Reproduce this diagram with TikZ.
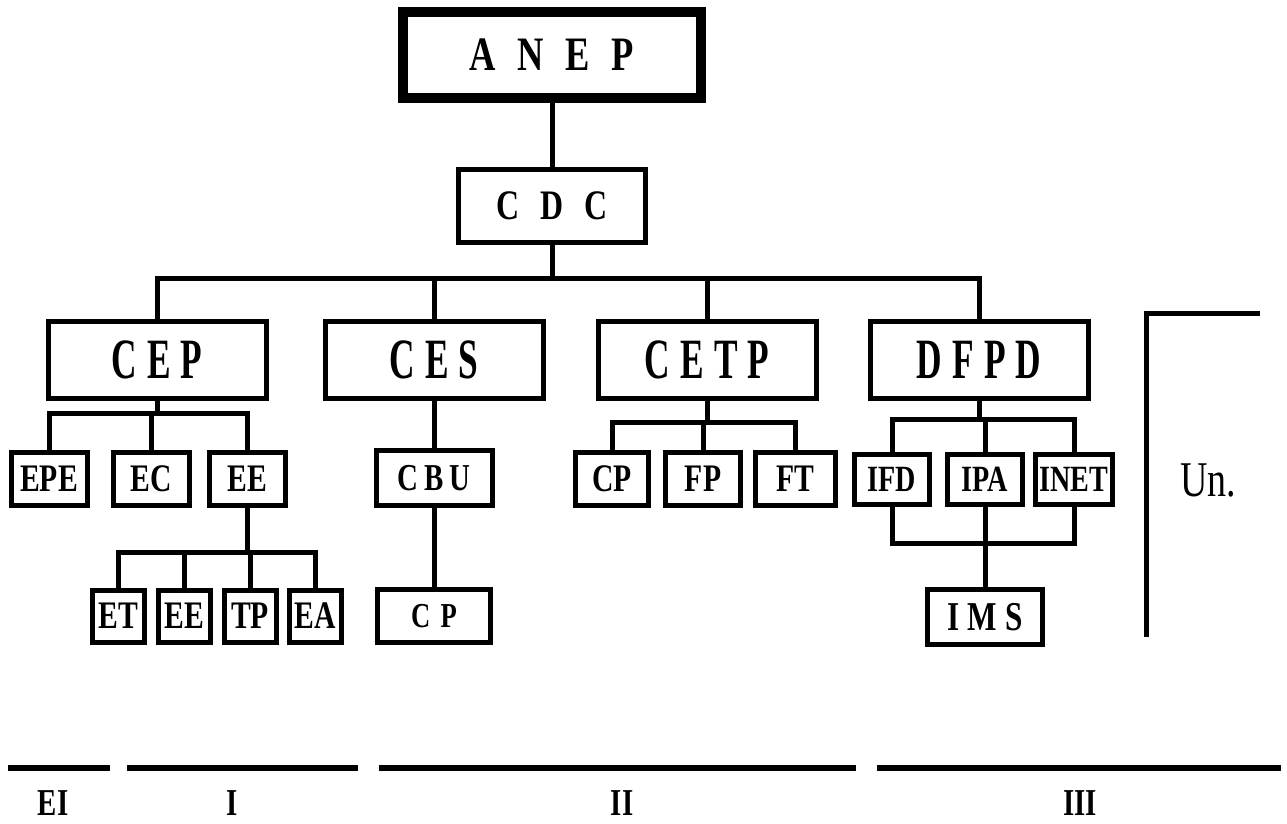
\documentclass[tikz,border=0pt]{standalone}
\usepackage{fontspec}
\setmainfont{Liberation Serif}
\newfontfamily\boxfont[FakeStretch=0.76]{Liberation Serif}
\newfontfamily\tallfont[FakeStretch=0.62]{Liberation Serif}
\usetikzlibrary{positioning}
% letter spaced caption, #1 = spacing in percent of em
\newcommand{\spread}[2]{{\addfontfeature{LetterSpace=#1}#2}}
\tikzset{
  unit/.style={draw, line width=5pt, inner sep=0pt, minimum height=53pt,
    font=\boxfont\bfseries\fontsize{39}{44}\selectfont},
  smallunit/.style={unit, minimum width=52pt, minimum height=52pt},
  midunit/.style={unit, minimum width=76pt},
  council/.style={unit, minimum width=218pt, minimum height=77pt,
    font=\tallfont\bfseries\fontsize{57}{64}\selectfont},
  link/.style={line width=5pt},
  rule/.style={line width=6pt},
  level/.style={inner sep=0pt, font=\boxfont\bfseries\fontsize{38}{44}\selectfont}
}

\begin{document}
\begin{tikzpicture}[x=1pt, y=-1pt]
    \path[fill=white, use as bounding box] (0,0) rectangle (1287,823);

    % top of the chart
    \node[unit, line width=10pt, minimum width=298pt, minimum height=86pt,
      font=\boxfont\bfseries\fontsize{48}{56}\selectfont] (anep) at (552,55) {\spread{45}{ANEP}};
    \node[unit, minimum width=187pt, minimum height=73pt,
      font=\boxfont\bfseries\fontsize{42}{48}\selectfont] (cdc) at (552,206) {\spread{50}{CDC}};
    \draw[link] (anep) -- (cdc);

    % councils
    \node[council] (cep) at (157,360) {\spread{18}{CEP}};
    \node[council] (ces) at (434,360) {\spread{18}{CES}};
    \node[council] (cetp) at (707,360) {\spread{18}{CETP}};
    \node[council] (dfpd) at (979,360) {\spread{18}{DFPD}};
    \coordinate (bus) at (557,278);
    \draw[link] (cdc.south) -- (cdc.south |- bus);
    \draw[link] (cep.north) |- (dfpd.north |- bus) -- (dfpd.north);
    \foreach \u in {ces,cetp}
      \draw[link] (\u.north) -- (\u.north |- bus);

    % CEP branch
    \node[midunit] (epe) at (49,479) {EPE};
    \node[midunit] (ec) at (151,479) {EC};
    \node[midunit] (ee) at (247,479) {EE};
    \coordinate (cepbus) at (155,413);
    \draw[link] (cep.south) -- (cep.south |- cepbus);
    \draw[link] (epe.north) |- (ee.north |- cepbus) -- (ee.north);
    \draw[link] (ec.north) -- (ec.north |- cepbus);

    \node[smallunit] (et) at (118,616) {ET};
    \node[smallunit] (eee) at (184,616) {EE};
    \node[smallunit] (tp) at (250,616) {TP};
    \node[smallunit] (ea) at (315,616) {EA};
    \coordinate (eebus) at (248,552);
    \draw[link] (ee.south) -- (ee.south |- eebus);
    \draw[link] (et.north) |- (ea.north |- eebus) -- (ea.north);
    \foreach \u in {eee,tp}
      \draw[link] (\u.north) -- (\u.north |- eebus);

    % CES branch
    \node[unit, minimum width=116pt, minimum height=55pt,
      font=\boxfont\bfseries\fontsize{38}{44}\selectfont] (cbu) at (434,478) {\spread{16}{CBU}};
    \node[unit, minimum width=113pt, minimum height=53pt,
      font=\boxfont\bfseries\fontsize{35}{40}\selectfont] (cpces) at (434,616) {\spread{30}{CP}};
    \draw[link] (ces) -- (cbu);
    \draw[link] (cbu) -- (cpces);

    % CETP branch
    \node[midunit, minimum width=73pt] (cpcetp) at (612,479) {CP};
    \node[midunit, minimum width=75pt] (fp) at (703,479) {FP};
    \node[midunit, minimum width=80pt] (ft) at (795,479) {FT};
    \coordinate (cetpbus) at (714,422);
    \draw[link] (cetp.south) -- (cetp.south |- cetpbus);
    \draw[link] (cpcetp.north) |- (ft.north |- cetpbus) -- (ft.north);
    \draw[link] (fp.north) -- (fp.north |- cetpbus);

    % DFPD branch
    \node[midunit, minimum width=75pt, minimum height=50pt,
      font=\boxfont\bfseries\fontsize{37}{42}\selectfont] (ifd) at (892,479) {IFD};
    \node[midunit, minimum width=75pt, minimum height=50pt,
      font=\boxfont\bfseries\fontsize{37}{42}\selectfont] (ipa) at (985,479) {IPA};
    \node[midunit, minimum width=77pt, minimum height=50pt,
      font=\boxfont\bfseries\fontsize{37}{42}\selectfont] (inet) at (1074,479) {INET};
    \node[unit, minimum width=115pt, minimum height=55pt,
      font=\boxfont\bfseries\fontsize{41}{46}\selectfont] (ims) at (985,617) {\spread{20}{IMS}};
    \coordinate (dfpdbus) at (985,419);
    \coordinate (imsbus) at (985,543);
    \draw[link] (dfpd.south) -- (dfpd.south |- dfpdbus);
    \draw[link] (ifd.north) |- (inet.north |- dfpdbus) -- (inet.north);
    \draw[link] (ipa.north) -- (ipa.north |- dfpdbus);
    \draw[link] (ifd.south) |- (inet.south |- imsbus) -- (inet.south);
    \draw[link] (ipa) -- (ims);

    % Un. bracket
    \coordinate (untop) at (1260,313);
    \coordinate (uncorner) at (1146,313);
    \coordinate (unfoot) at (1146,637);
    \draw[link] (untop) -- (uncorner) -- (unfoot);
    \node[font=\boxfont\fontsize{50}{56}\selectfont] (un) at (1208,480) {Un.};

    % levels
    \draw[rule] (8,768) -- (110,768);
    \draw[rule] (127,768) -- (358,768);
    \draw[rule] (379,768) -- (856,768);
    \draw[rule] (877,768) -- (1281,768);
    \node[level] (ei) at (53,803) {EI};
    \node[level] (lvone) at (232,803) {I};
    \node[level] (lvtwo) at (622,803) {II};
    \node[level] (lvthree) at (1080,803) {III};
\end{tikzpicture}
\end{document}
